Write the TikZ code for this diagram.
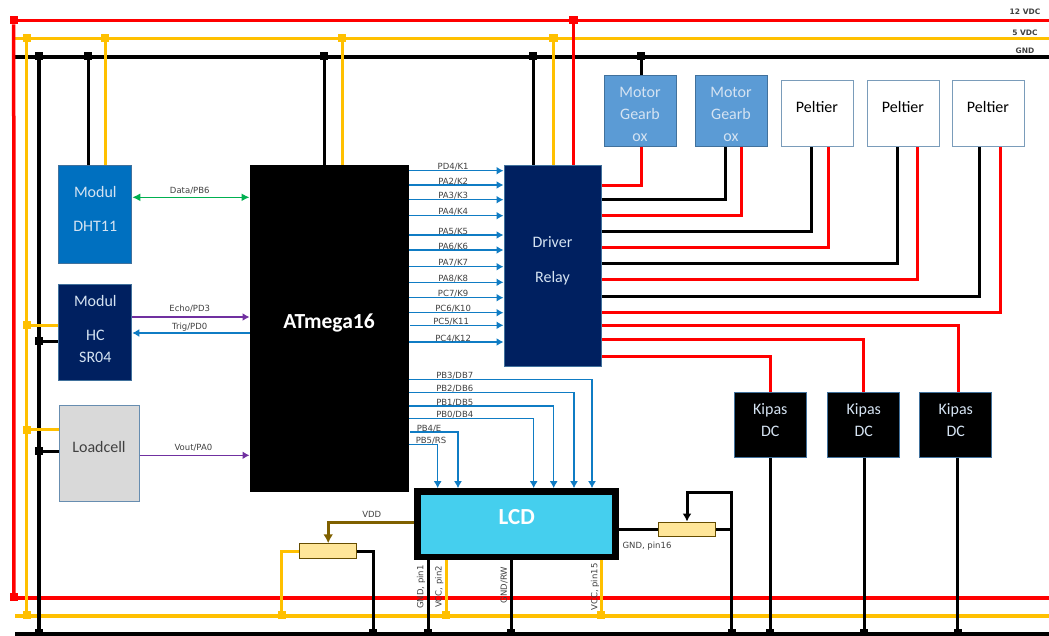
\documentclass[tikz,border=0pt]{standalone}
\usepackage{fontspec}
\setmainfont{Carlito}
\newfontfamily\labfont{DejaVu Sans}
\usetikzlibrary{arrows.meta,positioning}
\definecolor{railred}{HTML}{FF0000}
\definecolor{railyel}{HTML}{FFC000}
\definecolor{sigblue}{HTML}{0F7CC4}
\definecolor{sigpur}{HTML}{7030A0}
\definecolor{siggrn}{HTML}{00B050}
\definecolor{vddbrown}{HTML}{7F6000}
\definecolor{edgeblue}{HTML}{41719C}
\definecolor{softwhite}{HTML}{D5E3F2}
\definecolor{labgray}{HTML}{404040}
\definecolor{dhtblue}{HTML}{0070C0}
\definecolor{navy}{HTML}{002060}
\definecolor{motorblue}{HTML}{5B9BD5}
\definecolor{cellgray}{HTML}{D9D9D9}
\definecolor{lcdcyan}{HTML}{45CFEE}
\definecolor{potsand}{HTML}{FFE699}
\tikzset{box/.style={draw=edgeblue,line width=1pt,align=center,inner sep=0pt,font=\fontsize{16}{22}\selectfont},lastline/.style={text height=#1,text depth=0pt},raised/.style={text height=0pt,text depth=#1},module/.style={box,minimum width=73pt,text=softwhite},motor/.style={box,fill=motorblue,minimum width=72pt,minimum height=71pt,text=softwhite,lastline=61pt},peltier/.style={box,draw=edgeblue!70,fill=white,minimum width=72pt,minimum height=66pt,raised=2pt},kipas/.style={box,fill=black,minimum width=72pt,minimum height=65pt,text=softwhite,lastline=22pt},trimpot/.style={draw=vddbrown!80!black,line width=1pt,fill=potsand,minimum width=57pt,minimum height=14.5pt,inner sep=0pt},dotK/.style={fill=black,minimum size=8.3pt,inner sep=0pt},dotY/.style={fill=railyel,minimum size=8.3pt,inner sep=0pt},dotR/.style={fill=railred,minimum size=8.3pt,inner sep=0pt},wireK/.style={draw=black,line width=3pt},wireY/.style={draw=railyel,line width=3pt},wireR/.style={draw=railred,line width=3pt},sig/.style={draw=sigblue,line width=1.5pt,-{Latex[length=7pt,width=8pt]}},txt/.style={font=\labfont\fontsize{8.5}{10}\selectfont,text=labgray,inner sep=0pt},lab/.style={txt,yshift=3.7pt},pinlab/.style={txt,rotate=90},raillab/.style={font=\labfont\bfseries\fontsize{7.5}{9}\selectfont,text=labgray,inner sep=0pt}}
\begin{document}
\begin{tikzpicture}[x=1pt,y=-1pt]
\useasboundingbox (0,0) rectangle (1049,635);
\coordinate (gndL) at (15,57);
\coordinate (gndR) at (1049,57);
\coordinate (gndBL) at (15,634);
\coordinate (gndBR) at (1049,634);
\coordinate (yelL) at (15,38.7);
\coordinate (yelR) at (1049,38.7);
\coordinate (yelBL) at (15,616);
\coordinate (yelBR) at (1049,616);
\coordinate (redL) at (14,20.7);
\coordinate (redR) at (1049,20.7);
\coordinate (redBL) at (14,598);
\coordinate (redBR) at (1049,598);
\draw[wireK,line width=3.3pt] (gndL)--(gndR);
\draw[wireK,line width=3.3pt] (gndBL)--(gndBR);
\draw[wireY,line width=3.3pt] (yelL)--(yelR);
\draw[wireY,line width=3.3pt] (yelBL)--(yelBR);
\draw[wireR,line width=3.3pt] (redL)--(redR);
\draw[wireR,line width=3.3pt] (redBL)--(redBR);

\node[module,fill=dhtblue,minimum height=98pt,lastline=34pt] (dht) at (95.3,214) {Modul\\[12pt]DHT11};
\node[module,fill=navy,minimum height=96pt,lastline=60pt] (hcsr) at (95.3,332) {Modul\\[12pt]HC\\SR04};
\node[box,fill=cellgray,draw=edgeblue!80,minimum width=80pt,minimum height=96pt,raised=2pt,text=labgray] (loadcell) at (99,453) {Loadcell};
\node[box,draw=black,fill=black,minimum width=158pt,minimum height=326pt,text=white,raised=0pt,font=\bfseries\fontsize{21.5}{24}\selectfont] (atmega) at (329,328) {ATmega16};
\node[box,fill=navy,draw=edgeblue,minimum width=97pt,minimum height=201pt,text=softwhite,lastline=33pt] (driver) at (552.5,265.5) {Driver\\[13pt]Relay};
\node[motor] (motorA) at (640,110.6) {Motor\\Gearb\\ox};
\node[motor,right=18pt of motorA] (motorB) {Motor\\Gearb\\ox};
\node[peltier] (peltA) at (817,113) {Peltier};
\node[peltier,right=13pt of peltA] (peltB) {Peltier};
\node[peltier,right=12pt of peltB] (peltC) {Peltier};
\node[kipas] (kipasA) at (770.3,425) {Kipas\\DC};
\node[kipas,right=20.5pt of kipasA] (kipasB) {Kipas\\DC};
\node[kipas,right=19pt of kipasB] (kipasC) {Kipas\\DC};
\node[box,draw=black,line width=6.7pt,fill=lcdcyan,minimum width=198pt,minimum height=65.3pt,text=white,raised=0pt,font=\bfseries\fontsize{23}{26}\selectfont] (lcd) at (516.7,524.2) {LCD};
\node[trimpot] (potA) at (328.2,551) {};
\node[trimpot] (potB) at (687,529.3) {};

\node[dotR] (redDotT) at (13.7,20) {};
\node[dotR] (redDotB) at (14,597.3) {};
\node[dotR] (redDrv) at (573.5,20) {};
\node[dotY] (yelDotT) at (26.7,38) {};
\node[dotY] (yelDotB) at (26.7,615) {};
\node[dotY] (yelDht) at (105.3,38) {};
\node[dotY] (yelAtm) at (342.3,38) {};
\node[dotY] (yelDrv) at (553.5,38) {};
\node[dotY] (yelHc) at (26.7,325) {};
\node[dotY] (yelLoad) at (26.7,429.7) {};
\node[dotY] (yelPot) at (281.7,615.3) {};
\node[dotY] (yelPinA) at (446,615.3) {};
\node[dotY] (yelPinB) at (601.3,615.3) {};
\node[dotK] (gndDotT) at (39,56) {};
\node[dotK] (gndDotB) at (39,633) {};
\node[dotK] (gndDht) at (88.3,56) {};
\node[dotK] (gndAtm) at (324,56) {};
\node[dotK] (gndDrv) at (533,56) {};
\node[dotK] (gndMotor) at (641,56) {};
\node[dotK] (gndHc) at (39,341) {};
\node[dotK] (gndLoad) at (39,451) {};
\node[dotK] (gndPotA) at (373.3,633) {};
\node[dotK] (gndPinA) at (428.3,633) {};
\node[dotK] (gndPinB) at (511,633) {};
\node[dotK] (gndPotB) at (731.7,633) {};
\node[dotK] (gndKipA) at (770.3,633) {};
\node[dotK] (gndKipB) at (864,633) {};
\node[dotK] (gndKipC) at (957.7,633) {};

\draw[wireR,line width=3.5pt] (redDotT)--(redDotB);
\draw[wireY,line width=3.5pt] (yelDotT)--(yelDotB);
\draw[wireK,line width=3.3pt] (gndDotT)--(gndDotB);
\draw[wireK] (gndDht)--(gndDht |- dht.north);
\draw[wireY] (yelDht)--(yelDht |- dht.north);
\draw[wireK] (gndAtm)--(gndAtm |- atmega.north);
\draw[wireY] (yelAtm)--(yelAtm |- atmega.north);
\draw[wireK] (gndDrv)--(gndDrv |- driver.north);
\draw[wireY] (yelDrv)--(yelDrv |- driver.north);
\draw[wireR] (redDrv)--(redDrv |- driver.north);
\draw[wireK] (gndMotor)--(gndMotor |- motorA.north);
\draw[wireY] (yelHc)--(yelHc -| hcsr.west);
\draw[wireK] (gndHc)--(gndHc -| hcsr.west);
\draw[wireY] (yelLoad)--(yelLoad -| loadcell.west);
\draw[wireK] (gndLoad)--(gndLoad -| loadcell.west);

\draw[wireR] (driver.east |- 0,185) -| (motorA.south -| 641,0);
\draw[wireK] (driver.east |- 0,199.7) -| (motorB.south -| 725,0);
\draw[wireR] (driver.east |- 0,215.7) -| (motorB.south -| 741,0);
\draw[wireK] (driver.east |- 0,231.3) -| (peltA.south -| 811,0);
\draw[wireR] (driver.east |- 0,247) -| (peltA.south -| 828,0);
\draw[wireK] (driver.east |- 0,263) -| (peltB.south -| 897,0);
\draw[wireR] (driver.east |- 0,279.7) -| (peltB.south -| 917,0);
\draw[wireK] (driver.east |- 0,296.7) -| (peltC.south -| 979,0);
\draw[wireR] (driver.east |- 0,312.7) -| (peltC.south -| 1000,0);
\draw[wireR] (driver.east |- 0,325) -| (kipasC.north -| 958,0);
\draw[wireR] (driver.east |- 0,339.7) -| (kipasB.north -| 863,0);
\draw[wireR] (driver.east |- 0,356.7) -| (kipasA.north -| 770,0);
\draw[wireK] (kipasA.south -| gndKipA)--(gndKipA);
\draw[wireK] (kipasB.south -| gndKipB)--(gndKipB);
\draw[wireK] (kipasC.south -| gndKipC)--(gndKipC);

\draw[sig,draw=siggrn,{Latex[length=8pt,width=8pt]}-{Latex[length=8pt,width=8pt]}] (dht.east |- 0,197.3)--node[txt,pos=.49,yshift=6.6pt] (tData) {Data/PB6} (atmega.west |- 0,197.3);
\draw[sig,draw=sigpur] (hcsr.east |- 0,317)--node[txt,pos=.49,yshift=8pt] (tEcho) {Echo/PD3} (atmega.west |- 0,317);
\draw[sig] (atmega.west |- 0,333)--node[txt,pos=.51,yshift=6pt] (tTrig) {Trig/PD0} (hcsr.east |- 0,333);
\draw[sig,draw=sigpur] (loadcell.east |- 0,455.3)--node[txt,pos=.49,yshift=7.3pt] (tVout) {Vout/PA0} (atmega.west |- 0,455.3);

\draw[sig] (atmega.east |- 0,170.7)--node[lab,pos=.47] (tK1) {PD4/K1} (driver.west |- 0,170.7);
\draw[sig] (atmega.east |- 0,185)--node[lab,pos=.47] (tK2) {PA2/K2} (driver.west |- 0,185);
\draw[sig] (atmega.east |- 0,199.7)--node[lab,pos=.47] (tK3) {PA3/K3} (driver.west |- 0,199.7);
\draw[sig] (atmega.east |- 0,215.7)--node[lab,pos=.47] (tK4) {PA4/K4} (driver.west |- 0,215.7);
\draw[sig] (atmega.east |- 0,235)--node[lab,pos=.47] (tK5) {PA5/K5} (driver.west |- 0,235);
\draw[sig] (atmega.east |- 0,250)--node[lab,pos=.47] (tK6) {PA6/K6} (driver.west |- 0,250);
\draw[sig] (atmega.east |- 0,266.7)--node[lab,pos=.47] (tK7) {PA7/K7} (driver.west |- 0,266.7);
\draw[sig] (atmega.east |- 0,282.3)--node[lab,pos=.47] (tK8) {PA8/K8} (driver.west |- 0,282.3);
\draw[sig] (atmega.east |- 0,297.7)--node[lab,pos=.47] (tK9) {PC7/K9} (driver.west |- 0,297.7);
\draw[sig] (atmega.east |- 0,312.7)--node[lab,pos=.47] (tK10) {PC6/K10} (driver.west |- 0,312.7);
\draw[sig] (410,325.3)--node[lab,pos=.44] (tK11) {PC5/K11} (driver.west |- 0,325.3);
\draw[sig] (atmega.east |- 0,342)--node[lab,pos=.47] (tK12) {PC4/K12} (driver.west |- 0,342);

\draw[sig] (atmega.east |- 0,379.3) node[lab,right=27pt] (tDB7) {PB3/DB7} -| (lcd.north -| 592,0);
\draw[sig] (atmega.east |- 0,392.7) node[lab,right=27pt] (tDB6) {PB2/DB6} -| (lcd.north -| 574,0);
\draw[sig] (atmega.east |- 0,406) node[lab,right=27pt] (tDB5) {PB1/DB5} -| (lcd.north -| 553.7,0);
\draw[sig] (atmega.east |- 0,418.7) node[lab,right=27pt] (tDB4) {PB0/DB4} -| (lcd.north -| 533.7,0);
\draw[sig] (410,432) node[lab,right=6pt] (tE) {PB4/E} -| (lcd.north -| 458,0);
\draw[sig] (atmega.east |- 0,444.7) node[lab,right=6.5pt] (tRS) {PB5/RS} -| (lcd.north -| 437.7,0);

\draw[draw=vddbrown,line width=3pt,-{Latex[length=9pt,width=10pt]}] (lcd.west |- 0,522.7) -| (potA.north);
\draw[wireY] (potA.west) -| (yelPot);
\draw[wireK] (potA.east) -| (gndPotA);
\draw[wireK] (lcd.south -| gndPinA)--(gndPinA);
\draw[wireY] (lcd.south -| yelPinA)--(yelPinA);
\draw[wireK] (lcd.south -| gndPinB)--(gndPinB);
\draw[wireY] (lcd.south -| yelPinB)--(yelPinB);
\draw[wireK] (lcd.east |- potB)--(potB.west);
\draw[wireK] (potB.east)--(potB.east -| gndPotB);
\draw[wireK,-{Latex[length=8pt,width=9pt]}] (gndPotB) -- (gndPotB |- 0,492) -| (potB.north);

\node[raillab] (t12) at (1025,12) {12 VDC};
\node[raillab] (t5) at (1025,33) {5 VDC};
\node[raillab] (tGnd) at (1025,50.7) {GND};
\node[txt] (tVdd) at (371.7,514.7) {VDD};
\node[txt] (tPin16) at (647,546) {GND, pin16};
\node[pinlab] (tPinA) at (421,587) {GND, pin1};
\node[pinlab] (tPinB) at (439.3,587) {VCC, pin2};
\node[pinlab] (tPinC) at (504,585) {GND/RW};
\node[pinlab] (tPinD) at (595,587) {VCC, pin15};
\end{tikzpicture}
\end{document}
